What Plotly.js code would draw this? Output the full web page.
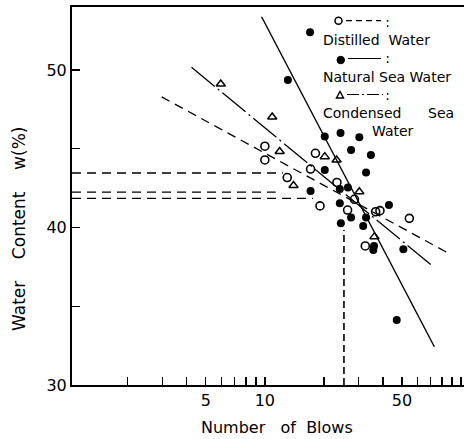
<!DOCTYPE html>
<html><head><meta charset="utf-8">
<script src="https://cdn.plot.ly/plotly-3.0.1.min.js"></script>
<style>html,body{margin:0;padding:0;background:#fff}#chart{width:464px;height:439px}</style>
</head><body><div id="chart"></div>
<script>
// ---- data ----
const blowsDistilled = [10.0, 10.0, 18.1, 17.1, 13.0, 23.3, 28.6, 19.1, 26.4, 36.7, 38.6, 54.5, 32.5];
const wDistilled     = [45.16, 44.29, 44.71, 43.71, 43.17, 42.86, 41.79, 41.37, 41.11, 41.0, 41.07, 40.58, 38.83];
const blowsNatural = [17.0, 13.1, 20.2, 24.3, 30.3, 27.5, 34.7, 20.2, 32.8, 17.1, 24.1, 26.5, 24.1, 42.9, 27.5, 32.8, 24.4, 31.7, 36.0, 35.7, 50.8, 47.0];
const wNatural     = [52.39, 49.37, 45.77, 46.0, 45.73, 44.92, 44.60, 43.65, 43.50, 42.32, 42.44, 42.54, 41.54, 41.43, 40.63, 40.63, 40.27, 40.10, 38.83, 38.57, 38.62, 34.13];
const blowsCondensed = [5.96, 10.9, 11.9, 20.2, 23.2, 14.0, 30.3, 36.2];
const wCondensed     = [49.11, 47.02, 44.83, 44.50, 44.29, 42.67, 42.27, 39.42];

const flowDistilledX = [2.98, 85.9],  flowDistilledY = [48.29, 38.38];
const flowNaturalX   = [9.62, 73.1],  flowNaturalY   = [53.38, 32.43];
const flowCondensedX = [4.23, 72.2],  flowCondensedY = [50.17, 37.51];

const llNaturalX   = [1.04, 12.35], llNaturalY   = [43.46, 43.46];
const llCondensedX = [1.04, 11.34], llCondensedY = [42.25, 42.25];
const llDistilledX = [1.04, 17.6],  llDistilledY = [41.85, 41.85];
const blows25X = [25.3, 25.3], blows25Y = [30, 39.84];

const xTickVals = [2,3,4,5,6,7,8,9,10,20,30,40,50,60,70,80,90,100];
const xTickText = ['','','','5','','','','','10','','','','50','','','','',''];
const yTickVals = [30,35,40,45,50];
const yTickText = ['30','','40','','50'];

const sp = n => '\u00A0'.repeat(n);
const xTitle = 'Number' + sp(3) + 'of' + sp(2) + 'Blows';
const yTitle = 'Water' + sp(4) + 'Content' + sp(4) + 'w(%)';
const legendText = [
  sp(14) + ':',
  'Distilled' + sp(2) + 'Water',
  sp(14) + ':',
  'Natural' + sp(1) + 'Sea' + sp(1) + 'Water',
  sp(14) + ':',
  'Condensed' + sp(6) + 'Sea',
  sp(11) + 'Water'
].join('<br>');

// ---- geometry helpers for legend decorations (pixel -> paper) ----
const L = 72, T = 7, W = 392, H = 378;
const px = v => (v - L) / W;
const py = v => (T + H - v) / H;

const FONT = 'DejaVu Sans';
const traces = [
  {x: flowDistilledX, y: flowDistilledY, mode: 'lines', line: {color: '#000', width: 1.3, dash: '9px,6px'}},
  {x: flowNaturalX, y: flowNaturalY, mode: 'lines', line: {color: '#000', width: 1.4}},
  {x: flowCondensedX, y: flowCondensedY, mode: 'lines', line: {color: '#000', width: 1.3, dash: '30px,4px,2px,4px'}},
  {x: llNaturalX, y: llNaturalY, mode: 'lines', line: {color: '#000', width: 1.3, dash: '9px,6px'}},
  {x: llCondensedX, y: llCondensedY, mode: 'lines', line: {color: '#000', width: 1.3, dash: '9px,6px'}},
  {x: llDistilledX, y: llDistilledY, mode: 'lines', line: {color: '#000', width: 1.3, dash: '9px,6px'}},
  {x: blows25X, y: blows25Y, mode: 'lines', line: {color: '#000', width: 1.6, dash: '7px,4px'}},
  {x: blowsDistilled, y: wDistilled, mode: 'markers', name: 'Distilled Water',
   marker: {symbol: 'circle-open', size: 8, color: '#000', line: {width: 1.6, color: '#000'}}},
  {x: blowsNatural, y: wNatural, mode: 'markers', name: 'Natural Sea Water',
   marker: {symbol: 'circle', size: 8, color: '#000'}},
  {x: blowsCondensed, y: wCondensed, mode: 'markers', name: 'Condensed Sea Water',
   marker: {symbol: 'triangle-up-open', size: 8, color: '#000', line: {width: 1.5, color: '#000'}}}
];

const shapes = [
  // legend: distilled
  {type: 'circle', xref: 'paper', yref: 'paper', x0: px(335), x1: px(342), y0: py(17.2), y1: py(24.2), line: {color: '#000', width: 1.5}},
  {type: 'line', xref: 'paper', yref: 'paper', x0: px(346), x1: px(381), y0: py(20.7), y1: py(20.7), line: {color: '#000', width: 1.3, dash: '6px,4px'}},
  // legend: natural
  {type: 'circle', xref: 'paper', yref: 'paper', x0: px(337), x1: px(344.5), y0: py(56.3), y1: py(63.8), fillcolor: '#000', line: {color: '#000', width: 1}},
  {type: 'line', xref: 'paper', yref: 'paper', x0: px(348), x1: px(381), y0: py(58.5), y1: py(58.5), line: {color: '#000', width: 1.2}},
  // legend: condensed
  {type: 'path', xref: 'paper', yref: 'paper',
   path: `M ${px(336.5)} ${py(98)} L ${px(343.5)} ${py(98)} L ${px(340)} ${py(91.5)} Z`, line: {color: '#000', width: 1.4}},
  {type: 'line', xref: 'paper', yref: 'paper', x0: px(347), x1: px(383), y0: py(94.5), y1: py(94.5), line: {color: '#000', width: 1.2, dash: '12px,3px,2px,3px'}}
];

const annotations = [
  {text: legendText, x: px(322), y: py(76), xref: 'paper', yref: 'paper', xanchor: 'left', yanchor: 'middle',
   align: 'left', showarrow: false, borderpad: 0, font: {family: FONT, size: 14, color: '#000'}},
  {text: yTitle, x: px(19), y: py(229), xref: 'paper', yref: 'paper', xanchor: 'center', yanchor: 'middle',
   textangle: -90, showarrow: false, font: {family: FONT, size: 17, color: '#000'}},
  {text: xTitle, x: px(276.7), y: py(427), xref: 'paper', yref: 'paper', xanchor: 'center', yanchor: 'middle',
   showarrow: false, font: {family: FONT, size: 16, color: '#000'}}
];

const layout = {
  width: 464, height: 439,
  margin: {l: L, r: 0, t: T, b: 439 - T - H, pad: 0},
  paper_bgcolor: '#fff', plot_bgcolor: '#fff',
  showlegend: false,
  font: {family: FONT, color: '#000', size: 15},
  xaxis: {type: 'log', range: [0.017, 2.015], showgrid: false, zeroline: false,
    showline: true, linecolor: '#000', linewidth: 2, mirror: true,
    ticks: 'inside', ticklen: 8, tickwidth: 1.3, tickcolor: '#000',
    tickmode: 'array', tickvals: xTickVals, ticktext: xTickText,
    tickfont: {family: FONT, size: 16, color: '#000'},
    automargin: false},
  yaxis: {range: [30, 54], showgrid: false, zeroline: false,
    showline: true, linecolor: '#000', linewidth: 2, mirror: false,
    ticks: 'inside', ticklen: 8, tickwidth: 1.3, tickcolor: '#000',
    tickmode: 'array', tickvals: yTickVals, ticktext: yTickText,
    tickfont: {family: FONT, size: 16, color: '#000'},
    automargin: false},
  shapes: shapes,
  annotations: annotations
};

Plotly.newPlot('chart', traces, layout, {displayModeBar: false, staticPlot: true});
</script>
</body></html>
